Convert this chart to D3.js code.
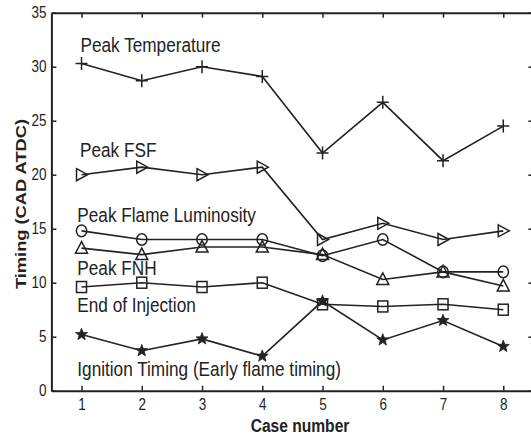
<!DOCTYPE html>
<html>
<head>
<meta charset="utf-8">
<script src="https://cdn.jsdelivr.net/npm/d3@7"></script>
<style>
  html, body { margin: 0; padding: 0; background: #fff; }
  svg { display: block; }
  text { font-family: "Liberation Sans", Arial, Helvetica, sans-serif; fill: #222; }
</style>
</head>
<body>
<svg id="chart" width="531" height="435"></svg>
<script>
// ---- data ----
const cases = [1, 2, 3, 4, 5, 6, 7, 8];
const peakTemperature = [30.3, 28.7, 30.0, 29.1, 22.0, 26.7, 21.3, 24.5];
const peakFSF = [20.0, 20.7, 20.0, 20.7, 14.0, 15.5, 14.0, 14.8];
const peakFlameLuminosity = [14.8, 14.0, 14.0, 14.0, 12.5, 14.0, 11.0, 11.0];
const peakFNH = [13.2, 12.6, 13.3, 13.3, 12.6, 10.3, 11.0, 9.7];
const endOfInjection = [9.6, 10.0, 9.6, 10.0, 8.0, 7.8, 8.0, 7.5];
const ignitionTiming = [5.2, 3.7, 4.8, 3.2, 8.3, 4.7, 6.5, 4.1];
const yTicks = [0, 5, 10, 15, 20, 25, 30, 35];
const seriesNames = ["Peak Temperature", "Peak FSF", "Peak Flame Luminosity", "Peak FNH", "End of Injection", "Ignition Timing (Early flame timing)"];
const seriesMarkers = ["plus", "triRight", "circle", "triUp", "square", "star"];
// label anchor positions (case, value) in data units
const labelX = [0.983, 0.975, 0.93, 0.93, 0.93, 0.93];
const labelY = [31.33, 21.67, 15.65, 10.71, 7.31, 1.36];

const series = [peakTemperature, peakFSF, peakFlameLuminosity, peakFNH, endOfInjection, ignitionTiming];

(function () {
const svg = d3.select("#chart");
const mLeft = 51.4, mRight = 533.4, mTop = 12.7, mBottom = 390.7;
const x = d3.scaleLinear().domain([0.5, 8.5]).range([mLeft, mRight]);
const y = d3.scaleLinear().domain([0, 35]).range([mBottom, mTop]);
const ink = "#222";
const SY = 1.18; // vertical stretch of text seen in the reference

// axes (MATLAB-like box with inward ticks)
const gB = svg.append("g").attr("transform", `translate(0,${mBottom})`)
  .call(d3.axisBottom(x).tickValues(cases).tickSizeInner(-5).tickSizeOuter(0).tickPadding(6.5).tickFormat(d3.format("d")));
const gT = svg.append("g").attr("transform", `translate(0,${mTop})`)
  .call(d3.axisTop(x).tickValues(cases).tickSizeInner(-5).tickSizeOuter(0).tickFormat(""));
const gL = svg.append("g").attr("transform", `translate(${mLeft},0)`)
  .call(d3.axisLeft(y).tickValues(yTicks).tickSizeInner(-5).tickSizeOuter(0).tickPadding(5).tickFormat(d3.format("d")));
const gR = svg.append("g").attr("transform", `translate(${mRight},0)`)
  .call(d3.axisRight(y).tickValues(yTicks).tickSizeInner(-5).tickSizeOuter(0).tickFormat(""));
[gB, gT, gL, gR].forEach(g => {
  g.select(".domain").attr("stroke", ink).attr("stroke-width", 2);
  g.selectAll(".tick line").attr("stroke", ink).attr("stroke-width", 1.5);
  g.selectAll(".tick text").attr("font-size", 13.5).attr("fill", ink)
    .attr("transform", `scale(1,${SY})`)
    .style("font-family", "'Liberation Sans', Arial, sans-serif");
});

// lines
const line = d3.line().x((d, i) => x(cases[i])).y(d => y(d));
series.forEach(s => {
  svg.append("path").datum(s).attr("d", line)
    .attr("fill", "none").attr("stroke", ink).attr("stroke-width", 1.6);
});

// markers
function starPath(r) {
  const pts = [];
  for (let k = 0; k < 10; k++) {
    const rr = k % 2 === 0 ? r : r * 0.42;
    const a = -Math.PI / 2 + k * Math.PI / 5;
    pts.push([rr * Math.cos(a), rr * Math.sin(a)]);
  }
  return "M" + pts.map(p => p.join(",")).join("L") + "Z";
}
function marker(g, type) {
  let el;
  if (type === "plus") {
    el = g.append("path").attr("d", "M-6,0H6M0,-6.5V6.5");
  } else if (type === "triRight") {
    el = g.append("path").attr("d", "M-5,-6L6,0L-5,6Z");
  } else if (type === "triUp") {
    el = g.append("path").attr("d", "M0,-6.5L6,5H-6Z");
  } else if (type === "circle") {
    el = g.append("ellipse").attr("rx", 5.2).attr("ry", 5.8);
  } else if (type === "square") {
    el = g.append("rect").attr("x", -5).attr("y", -5.5).attr("width", 10).attr("height", 11);
  } else if (type === "star") {
    g.append("path").attr("d", starPath(6.3)).attr("fill", ink)
      .attr("stroke", ink).attr("stroke-width", 0.8);
    return;
  }
  el.attr("fill", "none").attr("stroke", ink).attr("stroke-width", 1.5);
}
series.forEach((s, si) => {
  s.forEach((v, i) => {
    const g = svg.append("g").attr("transform", `translate(${x(cases[i])},${y(v)})`);
    marker(g, seriesMarkers[si]);
  });
});

// series labels
seriesNames.forEach((n, i) => {
  svg.append("text")
    .attr("transform", `translate(${x(labelX[i])},${y(labelY[i])}) scale(1,${SY})`)
    .attr("font-size", 17.2).text(n);
});

// axis titles
svg.append("text").attr("transform", `translate(25.5,204) scale(1,${SY}) rotate(-90)`)
  .attr("text-anchor", "middle").attr("font-size", 15.5).attr("font-weight", "bold").text("Timing (CAD ATDC)");
svg.append("text").attr("transform", `translate(300,431.5) scale(1,${SY})`)
  .attr("text-anchor", "middle").attr("font-size", 15.6).attr("font-weight", "bold").text("Case number");
})();
</script>
</body>
</html>
